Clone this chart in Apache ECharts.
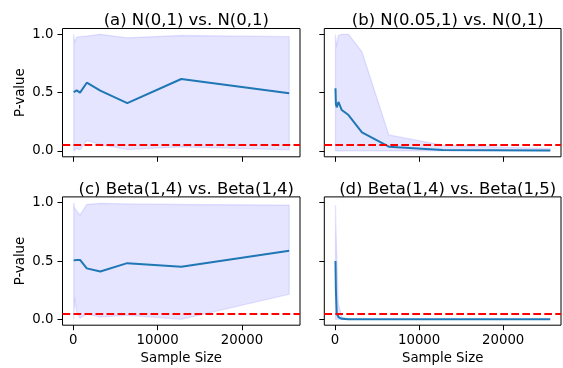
<!DOCTYPE html>
<html><head><meta charset="utf-8">
<script src="https://cdn.jsdelivr.net/npm/echarts@6/dist/echarts.min.js"></script>
<style>html,body{margin:0;padding:0;background:#fff}#c{width:563px;height:368px}</style>
</head><body><div id="c"></div>
<script>
const sampleSizes = [50, 100, 200, 400, 800, 1600, 3200, 6400, 12800, 25600];
const panelTitles = ['(a) N(0,1) vs. N(0,1)', '(b) N(0.05,1) vs. N(0,1)', '(c) Beta(1,4) vs. Beta(1,4)', '(d) Beta(1,4) vs. Beta(1,5)'];
const xTicks = [0, 10000, 20000];
const yTicks = [0, 0.5, 1.0];
const alphaLevel = 0.05;

const meanA  = [0.505, 0.51, 0.505, 0.52, 0.50, 0.585, 0.517, 0.41, 0.617, 0.494];
const lowerA = [0.005, 0.0, 0.01, 0.02, 0.01, 0.09, 0.055, 0.012, 0.035, 0.01];
const upperA = [1.0, 0.965, 0.937, 0.975, 0.98, 0.985, 1.0, 0.97, 0.99, 0.98];

const meanB  = [0.537, 0.40, 0.374, 0.42, 0.351, 0.308, 0.16, 0.037, 0.009, 0.003];
const lowerB = [0.003, 0.002, 0.002, 0.002, 0.002, 0.001, 0.001, 0.0, 0.0, 0.0];
const upperB = [1.0, 0.95, 0.91, 0.99, 1.0, 1.0, 0.85, 0.137, 0.05, 0.02];

const meanC  = [0.505, 0.505, 0.505, 0.51, 0.51, 0.437, 0.41, 0.482, 0.451, 0.588];
const lowerC = [0.0, 0.08, 0.16, 0.06, 0.01, 0.045, 0.02, 0.035, 0.0, 0.215];
const upperC = [1.0, 0.97, 0.95, 0.93, 0.894, 0.985, 0.995, 0.99, 0.985, 0.98];

const meanD  = [0.5, 0.25, 0.05, 0.02, 0.005, 0.001, 0.0, 0.0, 0.0, 0.0];
const lowerD = [0.0, 0.0, 0.0, 0.0, 0.0, 0.0, 0.0, 0.0, 0.0, 0.0];
const upperD = [0.98, 0.8, 0.55, 0.13, 0.02, 0.003, 0.0, 0.0, 0.0, 0.0];

const panels = [
  {mean: meanA, lower: lowerA, upper: upperA},
  {mean: meanB, lower: lowerB, upper: upperB},
  {mean: meanC, lower: lowerC, upper: upperC},
  {mean: meanD, lower: lowerD, upper: upperD}
];

const FONT = 'DejaVu Sans';
const gridPos = [
  {left: 62.5, top: 28.5, width: 237.5, height: 128.3},
  {left: 324.3, top: 28.5, width: 236.7, height: 128.3},
  {left: 62.5, top: 196.9, width: 237.5, height: 128.3},
  {left: 324.3, top: 196.9, width: 236.7, height: 128.3}
];
const titleTops = [7.5, 7.5, 176, 176];

const xRange = sampleSizes[sampleSizes.length - 1] - 0;
const xPad = 0.05 * xRange;

const option = {
  animation: false,
  backgroundColor: '#fff',
  title: panelTitles.map((t, i) => ({
    text: t,
    left: gridPos[i].left + gridPos[i].width / 2,
    top: titleTops[i],
    textAlign: 'center',
    textStyle: {fontFamily: FONT, fontSize: 16.5, fontWeight: 'normal', color: '#000'}
  })),
  grid: gridPos.map(g => Object.assign({show: true, borderColor: '#000', borderWidth: 1, backgroundColor: 'transparent', containLabel: false, outerBoundsMode: 'none'}, g)),
  xAxis: gridPos.map((g, i) => ({
    type: 'value', gridIndex: i,
    min: -xPad, max: xRange + xPad,
    splitLine: {show: false},
    axisLine: {show: false, onZero: false},
    axisTick: {show: true, inside: false, length: 5, customValues: xTicks, lineStyle: {color: '#000', width: 1}},
    axisLabel: {show: i >= 2, customValues: xTicks, margin: 9, fontFamily: FONT, fontSize: 13.3, color: '#000',
      formatter: v => String(Math.round(v))},
    name: i >= 2 ? 'Sample Size' : '',
    nameLocation: 'middle', nameGap: 27,
    nameTextStyle: {fontFamily: FONT, fontSize: 13.3, color: '#000'}
  })),
  yAxis: gridPos.map((g, i) => ({
    type: 'value', gridIndex: i,
    min: -0.05, max: 1.05,
    splitLine: {show: false},
    axisLine: {show: false, onZero: false},
    axisTick: {show: true, inside: false, length: 5, customValues: yTicks, lineStyle: {color: '#000', width: 1}},
    axisLabel: {show: i % 2 === 0, customValues: yTicks, margin: 9, fontFamily: FONT, fontSize: 13.3, color: '#000',
      formatter: v => v.toFixed(1)},
    name: i % 2 === 0 ? 'P-value' : '',
    nameLocation: 'middle', nameGap: 35, nameRotate: 90,
    nameTextStyle: {fontFamily: FONT, fontSize: 13.3, color: '#000'}
  })),
  series: []
};

panels.forEach((p, i) => {
  option.series.push({
    type: 'custom', xAxisIndex: i, yAxisIndex: i, silent: true, clip: true, z: 1,
    data: sampleSizes.map((x, k) => [x, p.upper[k], p.lower[k]]),
    encode: {x: 0, y: [1, 2]},
    renderItem: (params, api) => {
      if (params.dataIndex !== 0) return null;
      const pts = [];
      for (let k = 0; k < sampleSizes.length; k++) pts.push(api.coord([sampleSizes[k], p.upper[k]]));
      for (let k = sampleSizes.length - 1; k >= 0; k--) pts.push(api.coord([sampleSizes[k], p.lower[k]]));
      return {
        type: 'polygon', shape: {points: pts},
        style: {fill: 'rgba(0,0,255,0.1)', stroke: 'rgba(0,0,255,0.1)', lineWidth: 1.3}
      };
    }
  });
  option.series.push({
    type: 'line', xAxisIndex: i, yAxisIndex: i, silent: true,
    symbol: 'none', data: sampleSizes.map((x, k) => [x, p.mean[k]]),
    lineStyle: {color: '#1f77b4', width: 2}, z: 3,
    markLine: {
      silent: true, symbol: ['none', 'none'], label: {show: false},
      lineStyle: {color: '#ff0000', width: 2, type: [7.7, 3.3]},
      data: [{yAxis: alphaLevel}]
    }
  });
});

const chart = echarts.init(document.getElementById('c'), null, {renderer: 'canvas'});
chart.setOption(option);
</script>
</body></html>
